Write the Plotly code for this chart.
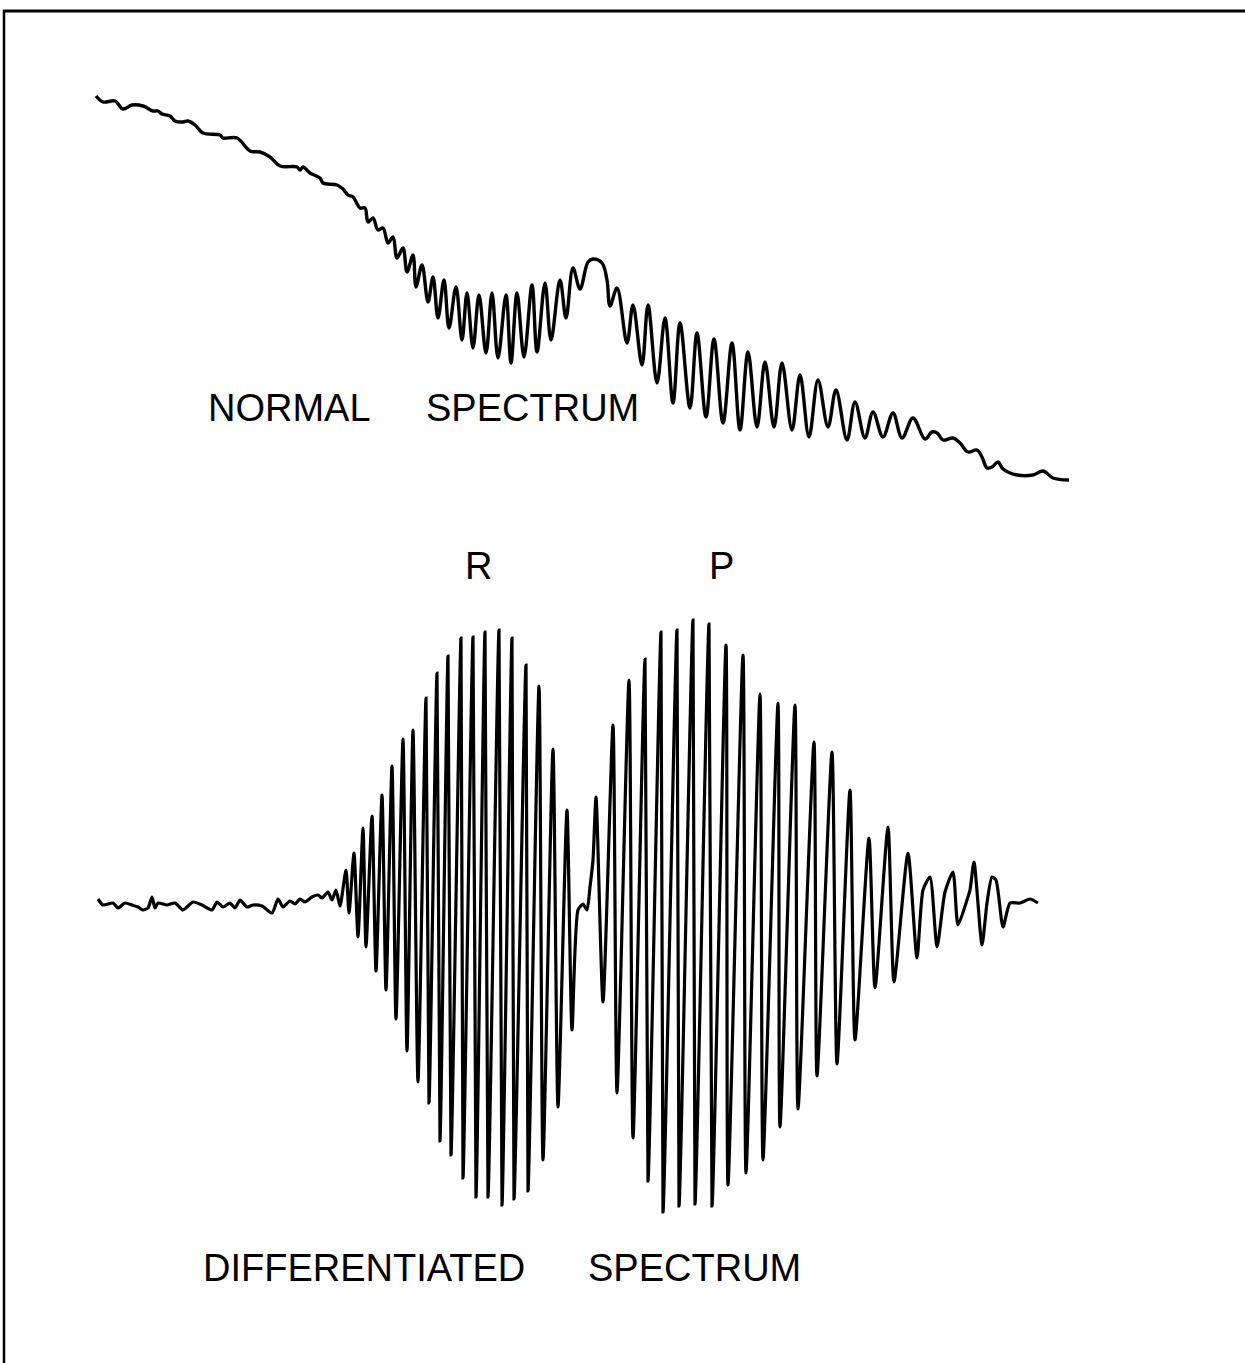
import plotly.graph_objects as go

# ---- Data (horizontal position, trace height; page units) ----
normal_x = [96, 103, 115, 123, 132, 143, 153, 158, 162, 170, 175, 183, 188, 195, 203, 220, 223, 237,
            250, 260, 270, 280, 297, 300, 303, 310, 320, 323, 337, 343, 348, 353, 360, 365, 368, 373,
            378, 383, 388, 393, 397, 403, 407, 413, 416, 422, 428, 433, 438, 444, 449, 456, 462, 467,
            473, 479, 486, 492, 498, 506, 511, 517, 524, 532, 537, 545, 551, 560, 566, 573, 580, 588,
            593, 602, 607, 610, 617, 627, 633, 642, 648, 657, 665, 673, 680, 690, 697, 706, 714, 723,
            732, 740, 748, 757, 765, 774, 782, 792, 800, 809, 818, 828, 836, 847, 855, 865, 873, 883,
            893, 902, 913, 925, 932, 937, 943, 953, 960, 968, 977, 982, 987, 992, 998, 1003, 1017,
            1033, 1043, 1053, 1069]
normal_y = [96, 102, 101, 109, 105, 106, 111, 111, 114, 116, 121, 122, 121, 125, 133, 135, 138, 138,
            151, 152, 157, 166, 167, 170, 167, 173, 178, 183, 185, 189, 195, 197, 208, 208, 222, 218,
            230, 228, 243, 237, 258, 248, 272, 255, 287, 265, 302, 277, 318, 280, 328, 287, 340, 293,
            348, 295, 353, 293, 358, 295, 363, 293, 357, 285, 352, 283, 340, 280, 318, 268, 289, 262,
            259, 263, 280, 306, 288, 343, 305, 365, 305, 383, 318, 403, 323, 408, 333, 417, 339, 423,
            343, 430, 352, 427, 362, 427, 363, 430, 375, 437, 380, 427, 390, 440, 402, 438, 412, 437,
            413, 438, 418, 439, 432, 433, 440, 438, 443, 452, 450, 457, 468, 467, 462, 469, 475,
            475, 471, 478, 480]

diff_x = [98, 103, 113, 118, 125, 132, 138, 143, 148, 152, 155, 158, 167, 175, 183, 193, 202, 212,
          217, 223, 230, 235, 240, 247, 253, 262, 272, 278, 283, 290, 295, 300, 305, 312, 318, 322,
          328, 332, 336, 340,
          346, 349, 354, 358, 363, 366, 372, 376, 382, 386, 392, 396, 403, 407, 413, 418, 426, 429,
          437, 440, 448, 451, 461, 463, 473, 476, 485, 488, 499, 502, 512, 514, 526, 528, 539, 543,
          553, 558, 567, 572,
          578, 583, 587, 590, 593,
          596, 603, 613, 617, 629, 633, 645, 648, 661, 663, 677, 679, 693, 695, 709, 712, 726, 728,
          743, 746, 760, 763, 778, 780, 795, 798, 814, 817, 832, 837, 850, 855, 869, 875, 888, 894,
          908, 917, 923, 930, 937, 945, 953, 958, 967, 970, 974, 982, 987, 992, 996, 1003, 1010,
          1020, 1030, 1038]
diff_y = [899, 905, 903, 908, 903, 905, 907, 910, 908, 897, 908, 903, 905, 903, 910, 902, 905, 910,
          902, 907, 903, 908, 900, 907, 905, 906, 913, 899, 907, 901, 904, 899, 902, 897, 895, 898,
          892, 900, 890, 906,
          870, 913, 853, 937, 828, 947, 816, 971, 795, 990, 766, 1019, 739, 1051, 730, 1082, 698, 1103,
          673, 1141, 656, 1155, 638, 1178, 637, 1197, 632, 1197, 630, 1205, 638, 1199, 665, 1191, 686, 1160,
          749, 1107, 810, 1030,
          910, 904, 910, 887, 860,
          797, 1002, 725, 1093, 680, 1138, 659, 1181, 632, 1212, 630, 1206, 620, 1204, 624, 1206, 645, 1185,
          655, 1173, 694, 1160, 703, 1127, 705, 1109, 742, 1076, 752, 1064, 790, 1040, 838, 988, 827, 982,
          853, 958, 890, 877, 947, 892, 872, 925, 900, 890, 862, 945, 903, 877, 880, 927, 903,
          903, 899, 903]

words = ["NORMAL", "SPECTRUM", "R", "P", "DIFFERENTIATED", "SPECTRUM"]

W, H = 1245, 1363

fig = go.Figure()
fig.add_trace(go.Scatter(x=normal_x, y=normal_y, mode="lines",
                         line=dict(color="black", width=3.4, shape="spline", smoothing=1.0),
                         hoverinfo="skip", showlegend=False))
fig.add_trace(go.Scatter(x=diff_x, y=diff_y, mode="lines",
                         line=dict(color="black", width=3.2, shape="spline", smoothing=0.6),
                         hoverinfo="skip", showlegend=False))

font = dict(family="Liberation Sans, Arial, sans-serif", size=38, color="black")
label_pos = [(206, 408), (424, 408), (463, 566), (707, 566), (201, 1268), (586, 1268)]
for txt, (lx, ly) in zip(words, label_pos):
    fig.add_annotation(x=lx, y=ly, text=txt, showarrow=False, xref="x", yref="y",
                       xanchor="left", yanchor="middle", font=font)

# frame (top and left edges)
fig.add_shape(type="line", x0=3, x1=W, y0=11, y1=11, xref="x", yref="y",
              line=dict(color="black", width=3))
fig.add_shape(type="line", x0=4, x1=4, y0=10, y1=H, xref="x", yref="y",
              line=dict(color="black", width=2.5))

fig.update_layout(width=W, height=H, margin=dict(l=0, r=0, t=0, b=0),
                  paper_bgcolor="white", plot_bgcolor="white",
                  xaxis=dict(range=[0, W], visible=False, fixedrange=True),
                  yaxis=dict(range=[H, 0], visible=False, fixedrange=True))

fig.write_html("out.html")
